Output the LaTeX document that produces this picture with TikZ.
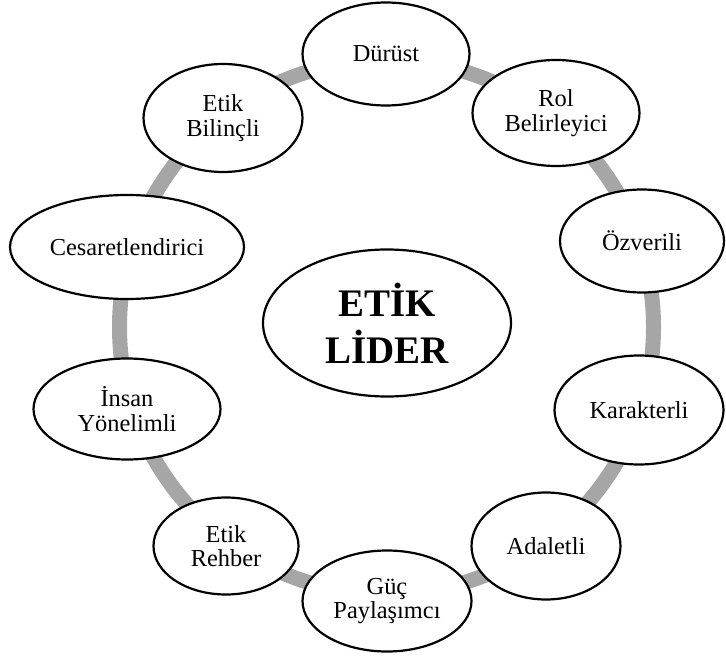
\documentclass[tikz,border=0pt]{standalone}
\usepackage{fontspec}
\setmainfont{Liberation Serif}
\usetikzlibrary{shapes.geometric}
\begin{document}
\begin{tikzpicture}[x=0.5pt,y=-0.5pt,
  ring/.style={draw=ringgray,line width=7.5pt},
  trait/.style={ellipse,draw=black,fill=white,line width=1.1pt,inner sep=0pt,outer sep=0pt,
    align=center,font=\fontsize{12.2pt}{12.2pt}\selectfont},
  leader/.style={ellipse,draw=black,fill=white,line width=1.1pt,inner sep=0pt,outer sep=0pt,
    align=center,font=\fontsize{19.5pt}{23.5pt}\selectfont\bfseries}]
\definecolor{ringgray}{HTML}{A6A6A6}
\useasboundingbox (0,0) rectangle (726,657);
\coordinate (ringc) at (386.5,327);
\draw[ring] (ringc) circle[radius=267];
\node[trait,minimum width=83.5pt,minimum height=51.5pt] (durust) at (386,54) {Dürüst};
\node[trait,minimum width=83.5pt,minimum height=53pt] (rol) at (556,113) {Rol\\Belirleyici};
\node[trait,minimum width=82pt,minimum height=51.5pt] (ozverili) at (642,241) {Özverili};
\node[trait,minimum width=84.5pt,minimum height=54.5pt] (karakterli) at (639,410) {Karakterli};
\node[trait,minimum width=74.5pt,minimum height=53.5pt] (adaletli) at (546,546) {Adaletli};
\node[trait,minimum width=84.5pt,minimum height=50.5pt] (guc) at (387,601) {Güç\\Paylaşımcı};
\node[trait,minimum width=72.5pt,minimum height=48.5pt] (rehber) at (226,546) {Etik\\Rehber};
\node[trait,minimum width=93.5pt,minimum height=50.5pt] (insan) at (127,409) {İnsan\\Yönelimli};
\node[trait,minimum width=117pt,minimum height=52pt] (cesaret) at (127,247) {Cesaretlendirici};
\node[trait,minimum width=79.5pt,minimum height=54pt] (bilincli) at (223,118) {Etik\\Bilinçli};
\node[leader,minimum width=124pt,minimum height=73.5pt] (lider) at (387,323) {ETİK\\LİDER};
\end{tikzpicture}
\end{document}
